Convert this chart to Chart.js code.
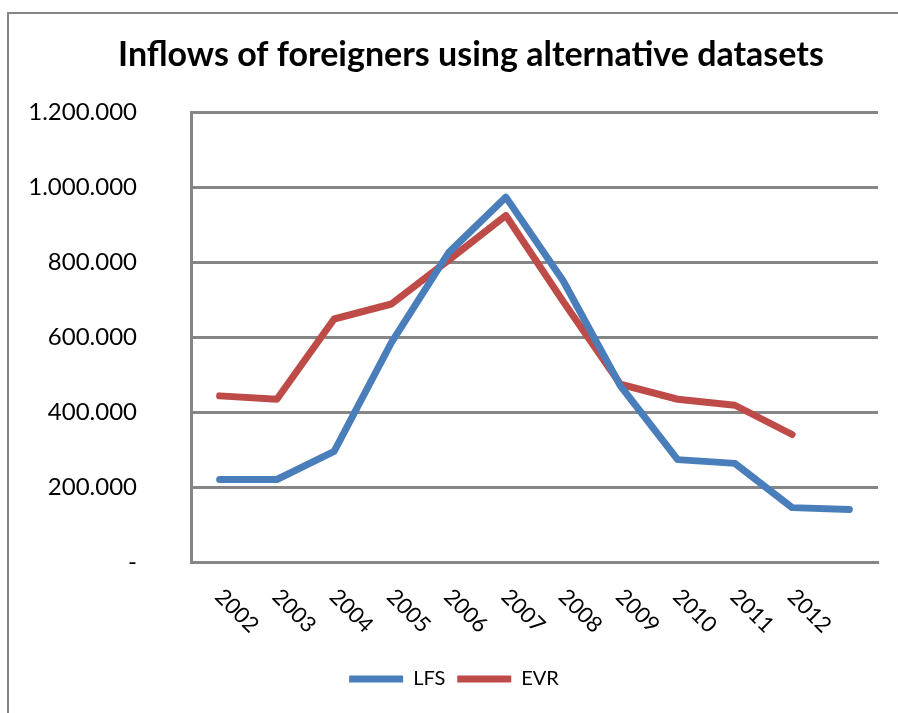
<!DOCTYPE html>
<html>
<head>
<meta charset="utf-8">
<script src="https://cdn.jsdelivr.net/npm/chart.js@4"></script>
<style>
  html, body { margin: 0; padding: 0; background: #fff; overflow: hidden; }
  #wrap { width: 898px; height: 713px; }
</style>
</head>
<body>
<div id="wrap"><canvas id="chart" width="898" height="713"></canvas></div>
<script>
// data
const years = ['2002', '2003', '2004', '2005', '2006', '2007', '2008', '2009', '2010', '2011', '2012', ''];
const lfs = [220000, 220000, 295000, 585000, 825000, 973000, 750000, 470000, 273000, 263000, 145000, 140000];
const evr = [443000, 434000, 648000, 688000, 805000, 924000, 695000, 474000, 434000, 418000, 340000];
const yTicks = [0, 200000, 400000, 600000, 800000, 1000000, 1200000];

const gridGray = '#868686';

// 1.200.000 style, zero shown as "-"
function fmt(v) {
    if (v === 0) return '-';
    return String(v).replace(/\B(?=(\d{3})+(?!\d))/g, '.');
}

// outer frame of the chart object (right/bottom are cut off in the picture)
const framePlugin = {
    id: 'frame',
    beforeDraw(chart) {
        const ctx = chart.ctx;
        ctx.save();
        ctx.strokeStyle = gridGray;
        ctx.lineWidth = 2;
        ctx.strokeRect(8, 13, 1000, 1000);
        ctx.restore();
    }
};

// title and legend sit a bit right of the box centre in the original
const boxShift = {
    id: 'boxShift',
    afterLayout(chart) {
        chart.titleBlock.left += 64;
        chart.legend.left += 30;
    }
};

// year labels slanted downward to the right
const xLabels = {
    id: 'xLabels',
    afterDraw(chart) {
        const ctx = chart.ctx;
        const xs = chart.scales.x;
        const bottom = chart.chartArea.bottom;
        ctx.save();
        ctx.font = '22px Lato';
        ctx.fillStyle = '#000';
        ctx.textAlign = 'left';
        ctx.textBaseline = 'alphabetic';
        years.forEach((y, i) => {
            if (!y) return;
            const x = xs.getPixelForValue(i);
            ctx.save();
            ctx.translate(x - 6, bottom + 36);
            ctx.rotate(Math.PI / 4);
            ctx.fillText(y, 0, 0);
            ctx.restore();
        });
        ctx.restore();
    }
};

new Chart(document.getElementById('chart'), {
    type: 'line',
    data: {
        labels: years,
        datasets: [{
            label: 'LFS',
            data: lfs,
            borderColor: '#4A7EBB',
            backgroundColor: '#4A7EBB',
            borderWidth: 7,
            borderCapStyle: 'round',
            borderJoinStyle: 'round',
            pointRadius: 0,
            tension: 0
        }, {
            label: 'EVR',
            data: evr,
            borderColor: '#BE4B48',
            backgroundColor: '#BE4B48',
            borderWidth: 7,
            borderCapStyle: 'round',
            borderJoinStyle: 'round',
            pointRadius: 0,
            tension: 0
        }]
    },
    options: {
        responsive: false,
        animation: false,
        layout: { padding: { left: 0, right: 20, top: 0, bottom: 14 } },
        plugins: {
            title: {
                display: true,
                text: 'Inflows of foreigners using alternative datasets',
                color: '#000',
                font: { family: 'Lato', size: 34, weight: 'bold', lineHeight: 1.2 },
                padding: { top: 35, bottom: 36.2 }
            },
            legend: {
                position: 'bottom',
                labels: {
                    color: '#000',
                    font: { family: 'Lato', size: 20 },
                    usePointStyle: true,
                    pointStyle: 'line',
                    pointStyleWidth: 54,
                    boxHeight: 7,
                    padding: 12
                }
            },
            tooltip: { enabled: false }
        },
        scales: {
            x: {
                offset: true,
                grid: { display: false },
                border: { display: true, color: gridGray, width: 3 },
                ticks: { display: false },
                afterFit(scale) { scale.height = 95; }
            },
            y: {
                min: 0,
                max: 1200000,
                afterBuildTicks(scale) {
                    scale.ticks = yTicks.map(v => ({ value: v }));
                },
                grid: { color: gridGray, lineWidth: 3, drawTicks: false },
                border: { display: true, color: gridGray, width: 3 },
                ticks: {
                    color: '#000',
                    font: { family: 'Lato', size: 24 },
                    padding: 54,
                    callback: v => fmt(v)
                },
                afterFit(scale) { scale.width = 191; }
            }
        }
    },
    plugins: [framePlugin, boxShift, xLabels]
});
</script>
</body>
</html>
